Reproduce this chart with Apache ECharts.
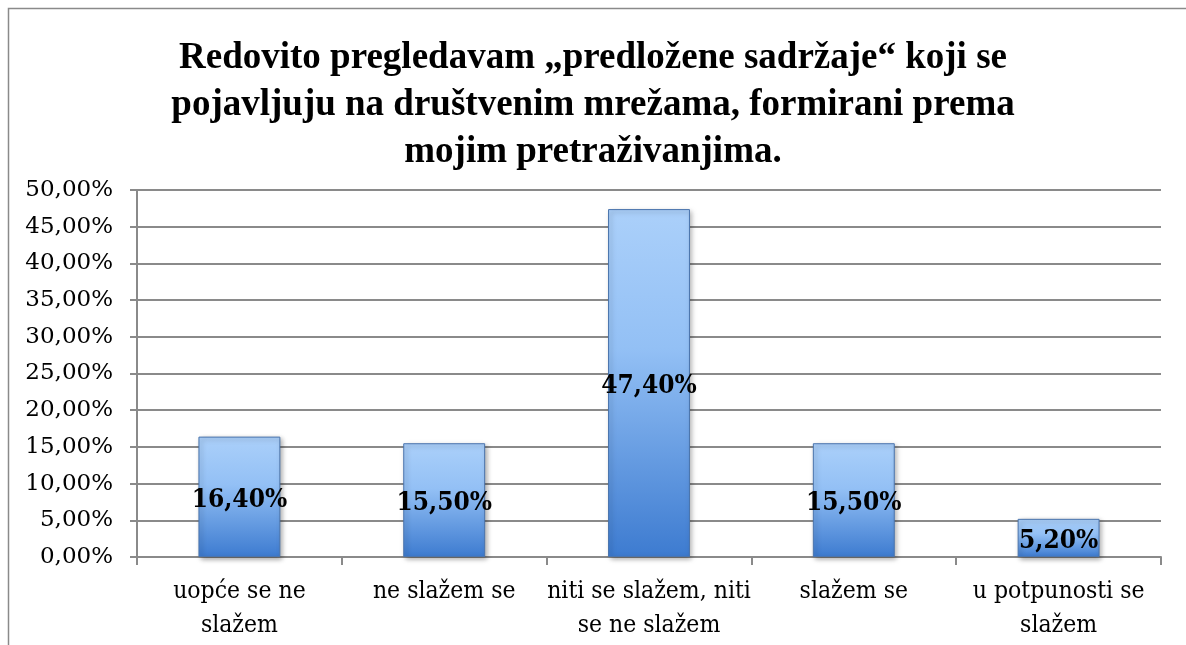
<!DOCTYPE html>
<html>
<head>
<meta charset="utf-8">
<script src="https://cdn.jsdelivr.net/npm/echarts@6/dist/echarts.min.js"></script>
<style>
  html, body { margin: 0; padding: 0; background: #fff; }
  #chart { width: 1186px; height: 645px; }
</style>
</head>
<body>
<div id="chart"></div>
<script>
var titleText = "Redovito pregledavam „predložene sadržaje“ koji se\npojavljuju na društvenim mrežama, formirani prema\nmojim pretraživanjima.";
var categories = ["uopće se ne\nslažem", "ne slažem se", "niti se slažem, niti\nse ne slažem", "slažem se", "u potpunosti se\nslažem"];
var values = [16.4, 15.5, 47.4, 15.5, 5.2];

var condensed = "'DejaVu Serif Condensed', 'DejaVu Serif', serif";

function pct(v) {
    return v.toFixed(2).replace(".", ",") + "%";
}

var myChart = echarts.init(document.getElementById("chart"));
var option = {
    animation: false,
    graphic: [{
        type: "rect",
        shape: { x: 8.5, y: 8.5, width: 1300, height: 800 },
        style: { fill: "none", stroke: "#8a8a8a", lineWidth: 1.5 },
        silent: true
    }],
    title: {
        text: titleText,
        left: "center",
        top: 30,
        textStyle: {
            fontFamily: "Liberation Serif",
            fontWeight: "bold",
            fontSize: 37,
            lineHeight: 47,
            color: "#000"
        }
    },
    grid: { left: 137, right: 25, top: 190, bottom: 88 },
    xAxis: {
        type: "category",
        data: categories,
        axisLine: { lineStyle: { color: "#8a8a8a", width: 2 } },
        axisTick: { show: true, length: 8, lineStyle: { color: "#8a8a8a", width: 2 } },
        axisLabel: {
            fontFamily: condensed,
            fontSize: 24.5,
            lineHeight: 34,
            color: "#000",
            margin: 18,
            interval: 0
        }
    },
    yAxis: {
        type: "value",
        min: 0,
        max: 50,
        interval: 5,
        axisLine: { show: true, lineStyle: { color: "#8a8a8a", width: 2 } },
        axisTick: { show: true, length: 7, lineStyle: { color: "#8a8a8a", width: 2 } },
        splitLine: { lineStyle: { color: "#8a8a8a", width: 2 } },
        axisLabel: {
            fontFamily: "DejaVu Serif",
            fontSize: 23,
            color: "#000",
            margin: 24,
            formatter: function (v) { return pct(v); }
        }
    },
    series: [{
        type: "bar",
        data: values,
        barWidth: "40%",
        itemStyle: {
            color: new echarts.graphic.LinearGradient(0, 0, 0, 1, [
                { offset: 0, color: "#abd0fa" },
                { offset: 0.4, color: "#93c0f5" },
                { offset: 1, color: "#3d7bd0" }
            ]),
            borderColor: "#4a74ad",
            borderWidth: 1,
            shadowColor: "rgba(0,0,0,0.35)",
            shadowBlur: 5,
            shadowOffsetX: 2,
            shadowOffsetY: 2
        },
        label: {
            show: true,
            position: "inside",
            offset: [0, 3],
            fontFamily: condensed,
            fontWeight: "bold",
            fontSize: 26,
            color: "#000",
            formatter: function (p) { return pct(p.value); }
        }
    }]
};
myChart.setOption(option);
</script>
</body>
</html>
